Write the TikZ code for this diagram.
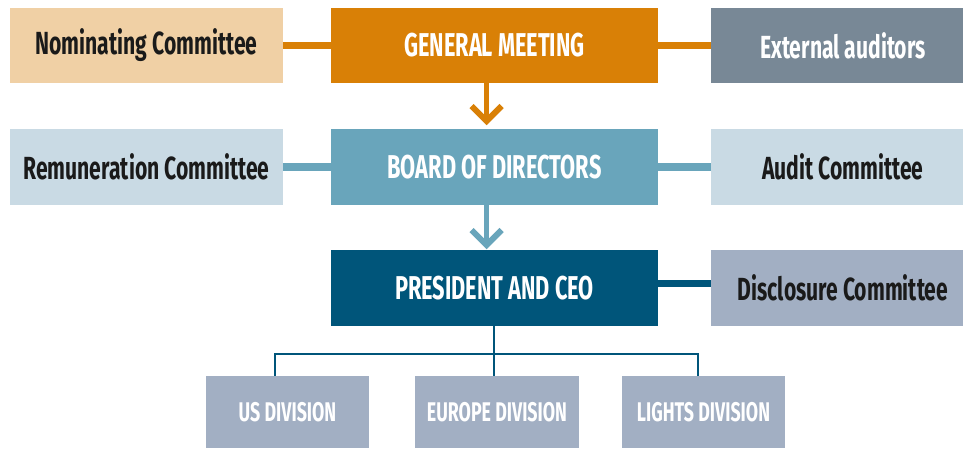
\documentclass[tikz,border=0pt]{standalone}
\usepackage{fontspec}
\setmainfont{Fira Sans}
\newfontfamily\condfont[FakeStretch=0.66]{Fira Sans}
\usetikzlibrary{calc}
\definecolor{gmc}{HTML}{D98006}
\definecolor{nomc}{HTML}{F0D0A5}
\definecolor{extc}{HTML}{788896}
\definecolor{bodc}{HTML}{69A5BB}
\definecolor{remc}{HTML}{C9DAE4}
\definecolor{ceoc}{HTML}{00557A}
\definecolor{disc}{HTML}{A2AFC3}
\definecolor{txtc}{HTML}{1A1A1A}
\begin{document}
\begin{tikzpicture}[x=1pt,y=-1pt,
  box/.style={inner sep=0pt, outer sep=0pt, anchor=center, align=center},
  main/.style={box, minimum width=327pt, minimum height=75pt, text=white,
    font=\condfont\bfseries\fontsize{33}{35}\selectfont},
  side/.style={box, minimum height=75pt, text=txtc,
    font=\condfont\bfseries\fontsize{32}{34}\selectfont},
  sidew/.style={side, text=white},
  div/.style={box, minimum height=72pt, text=white,
    font=\condfont\bfseries\fontsize{27}{29}\selectfont},
  con/.style={line width=7.5pt},
  tree/.style={ceoc, line width=2.8pt},
  stem/.style={line width=5pt},
  chev/.style={line width=6pt, miter limit=10, line join=miter, line cap=butt}
]
\useasboundingbox (0,0) rectangle (963,448);

% boxes
\node[main, fill=gmc] (gm) at (494.5,45.5) {GENERAL MEETING};
\node[side, fill=nomc, minimum width=273pt] (nom) at (146.5,45.5) {Nominating Committee};
\node[sidew, fill=extc, minimum width=264pt] (ext) at (843,45.5) {External auditors};

\node[main, fill=bodc, minimum height=76pt] (bod) at (494.5,167) {BOARD OF DIRECTORS};
\node[side, fill=remc, minimum width=273pt, minimum height=76pt] (rem) at (146.5,167) {Remuneration Committee};
\node[side, fill=remc, minimum width=264pt, minimum height=76pt] (aud) at (843,167) {Audit Committee};

\node[main, fill=ceoc, minimum height=76pt] (ceo) at (494.5,288) {PRESIDENT AND CEO};
\node[side, fill=disc, minimum width=264pt, minimum height=76pt] (dis) at (843,288) {Disclosure Committee};

\node[div, fill=disc, minimum width=163pt] (us) at (287.5,412) {US DIVISION};
\node[div, fill=disc, minimum width=164pt] (eu) at (497,412) {EUROPE DIVISION};
\node[div, fill=disc, minimum width=163pt] (li) at (703.5,412) {LIGHTS DIVISION};

% horizontal connectors
\draw[con, gmc] (nom) -- (gm);
\draw[con, gmc] (gm) -- (ext);
\draw[con, bodc] (rem) -- (bod);
\draw[con, bodc] (bod) -- (aud);
\draw[con, ceoc] ([yshift=4.5pt]ceo.east) -- ([yshift=4.5pt]dis.west);

% arrows
\coordinate (v1) at (486.5,121);
\draw[stem, gmc] (gm.south -| v1) -- (v1);
\draw[chev, gmc] ($(v1)+(-15,-15)$) -- (v1) -- ($(v1)+(15,-15)$);
\coordinate (v2) at (486.5,245);
\draw[stem, bodc] (bod.south -| v2) -- (v2);
\draw[chev, bodc] ($(v2)+(-15,-15)$) -- (v2) -- ($(v2)+(15,-15)$);

% tree
\coordinate (hub) at (494,354);
\coordinate (jus) at (275,354);
\coordinate (jli) at (698,354);
\draw[tree] (ceo.south -| hub) -- (hub);
\draw[tree, line cap=rect] (jus) -- (jli);
\draw[tree] (jus) -- (jus |- us.north);
\draw[tree] (hub) -- (hub |- eu.north);
\draw[tree] (jli) -- (jli |- li.north);
\end{tikzpicture}
\end{document}
